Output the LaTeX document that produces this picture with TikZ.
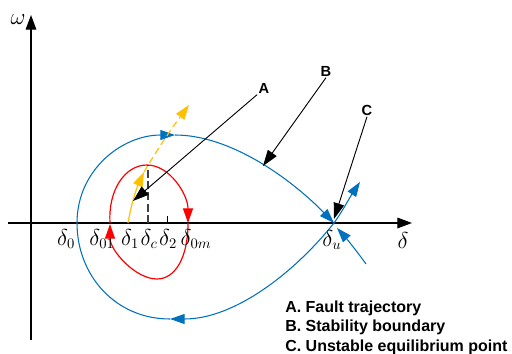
\documentclass[tikz,border=0pt]{standalone}
\usepackage{fontspec}
\setmainfont{Liberation Sans}
\usetikzlibrary{arrows.meta, positioning}
\definecolor{trajblue}{HTML}{0072BD}
\definecolor{faultred}{HTML}{FF0000}
\definecolor{postyellow}{HTML}{FFC000}
\definecolor{guidegray}{HTML}{404040}

\begin{document}
\begin{tikzpicture}[
    x=0.75pt, y=-0.75pt,
    axis/.style={line width=0.9pt, -{Triangle[length=11pt, width=8pt]}},
    bnd/.style={trajblue, line width=0.8pt},
    barr/.style={bnd, -{Triangle[length=11pt, width=7.5pt]}},
    flt/.style={faultred, line width=0.9pt, -{Triangle[length=11pt, width=7.5pt]}},
    post/.style={postyellow, line width=0.9pt, -{Triangle[length=11pt, width=7.5pt]}},
    callout/.style={black, line width=0.7pt, -{Triangle[length=12pt, width=8pt]}},
    tag/.style={font=\fontsize{11}{13}\selectfont\bfseries, inner sep=1pt},
    ang/.style={font=\fontsize{16}{18}\selectfont, inner sep=0pt, anchor=north},
    legend/.style={font=\fontsize{12}{14}\selectfont\bfseries, anchor=base west,
        inner sep=0pt}
]
\useasboundingbox (0,0) rectangle (512,354);

% --- Axes ---
\coordinate (du) at (334,223);
\draw[axis] (8,223) -- (412,223);
\draw[axis] (31,340) -- (31,15);
\node[font=\fontsize{17}{19}\selectfont] (wlab) at (18,20) {$\omega$};
\node[font=\fontsize{16}{18}\selectfont] (dlab) at (403,240) {$\delta$};

% --- Stability boundary ---
\draw[barr] (du) .. controls (295,272) and (235,319) .. (170,319);
\draw[barr] (170,319) .. controls (115,319) and (77,275) .. (77,223)
    .. controls (77,170) and (122,135) .. (175,135);
\draw[barr] (175,135) .. controls (230,135) and (290,178) .. (du);
\draw[barr] (du) .. controls (342,212) and (350,197) .. (360,182);
\draw[barr] (366,264) .. controls (356,250) and (346,238) .. (337,228);

% --- Fault trajectory ---
\draw[flt] (110,223) .. controls (108,190) and (125,165) .. (147,165)
    .. controls (170,165) and (188,195) .. (188,223);
\draw[flt] (188,223) .. controls (188,258) and (175,279) .. (157,279)
    .. controls (135,279) and (110,250) .. (110,224);

% --- Post-fault path ---
\draw[post] (128,223) .. controls (132,200) and (138,185) .. (144,172);
\draw[post, dash pattern=on 5pt off 3pt] (144,172) .. controls (158,148) and (172,128) .. (189,105);

% --- Guides ---
\draw[guidegray, line width=1.4pt, dash pattern=on 6pt off 2.5pt] (148,223) -- (148,165);
\draw[line width=0.7pt] (167,216) -- (167,223);

% --- Angle labels ---
\node[ang] (d0) at (66,229) {$\delta_0$};
\node[ang] (d01) at (102,229) {$\delta_{01}$};
\node[ang] (d1) at (130,229) {$\delta_1$};
\node[ang] (dc) at (149,229) {$\delta_c$};
\node[ang] (d2) at (168,229) {$\delta_2$};
\node[ang] (d0m) at (196,229) {$\delta_{0m}$};
\node[ang] (dul) at (332,230) {$\delta_u$};

% --- Callouts ---
\node[tag] (labA) at (264,88) {A};
\node[tag] (labB) at (326,71) {B};
\node[tag] (labC) at (367,110) {C};
\coordinate (tipA) at (133,201);
\coordinate (tipB) at (263,166);
\coordinate (tipC) at (334,219);
\draw[callout] (labA.south west) -- (tipA);
\draw[callout] (labB.south) -- (tipB);
\draw[callout] (labC.south) -- (tipC);

% --- Legend ---
\node[legend] (legA) at (285,312) {A. Fault trajectory};
\node[legend] (legB) at (285,331) {B. Stability boundary};
\node[legend] (legC) at (285,351) {C. Unstable equilibrium point};
\end{tikzpicture}
\end{document}
